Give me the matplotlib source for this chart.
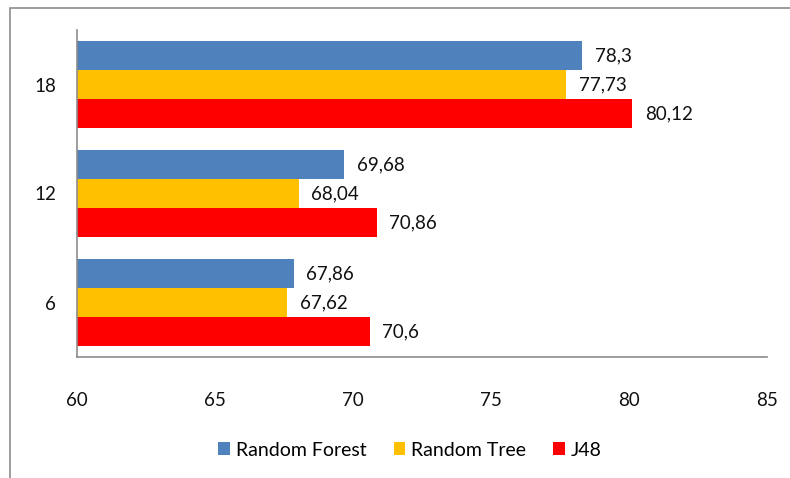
import matplotlib
matplotlib.use("Agg")
import matplotlib.pyplot as plt
from matplotlib.patches import Patch, Rectangle
import numpy as np

categories = ["6", "12", "18"]
series_names = ["Random Forest", "Random Tree", "J48"]
rf = [67.86, 69.68, 78.3]
rt = [67.62, 68.04, 77.73]
j48 = [70.6, 70.86, 80.12]
colors = ["#4F81BD", "#FFC000", "#FF0000"]
xticks = [60, 65, 70, 75, 80, 85]

plt.rcParams['font.family'] = ['Lato', 'DejaVu Sans']
FS = 13.5
TC = "#111111"

fig = plt.figure(figsize=(7.9, 4.78), dpi=100)
ax = fig.add_axes([77/790, 121/478, 690/790, 327/478])

y = np.arange(len(categories))
h = 0.265
values = [rf, rt, j48]
offsets = [h, 0, -h]
for vals, off, c in zip(values, offsets, colors):
    ax.barh(y + off, np.array(vals) - 60, left=60, height=h, color=c)
    for yi, v in zip(y, vals):
        lbl = f"{v:g}".replace(".", ",")
        ax.annotate(lbl, (v, yi + off), xytext=(9, 0), textcoords="offset points",
                    va="center", ha="left", fontsize=FS, color=TC)

ax.set_xlim(60, 85)
ax.set_ylim(-0.5, 2.5)
ax.set_xticks(xticks)
ax.set_xticklabels([str(t) for t in xticks])
ax.set_yticks(y)
ax.set_yticklabels(categories)
ax.tick_params(axis='x', length=0, pad=25, labelsize=FS, colors=TC)
ax.tick_params(axis='y', length=0, pad=15, labelsize=FS, colors=TC)
for s in ["top", "right"]:
    ax.spines[s].set_visible(False)
for s in ["left", "bottom"]:
    ax.spines[s].set_color("#8c8c8c")
    ax.spines[s].set_linewidth(1.2)

handles = [Patch(facecolor=c, edgecolor="none") for c in colors]
fig.legend(handles, series_names, loc="center", bbox_to_anchor=(410/790, 28/478),
           ncol=3, frameon=False, fontsize=14, handlelength=0.6, handleheight=0.6,
           handletextpad=0.3, columnspacing=1.4)

fig.patches.append(Rectangle((10/790, -0.1), 1.2, (470/478) + 0.1, transform=fig.transFigure,
                             fill=False, edgecolor="#8c8c8c", linewidth=1.2))

fig.savefig("out.png", dpi=100, facecolor="white")
